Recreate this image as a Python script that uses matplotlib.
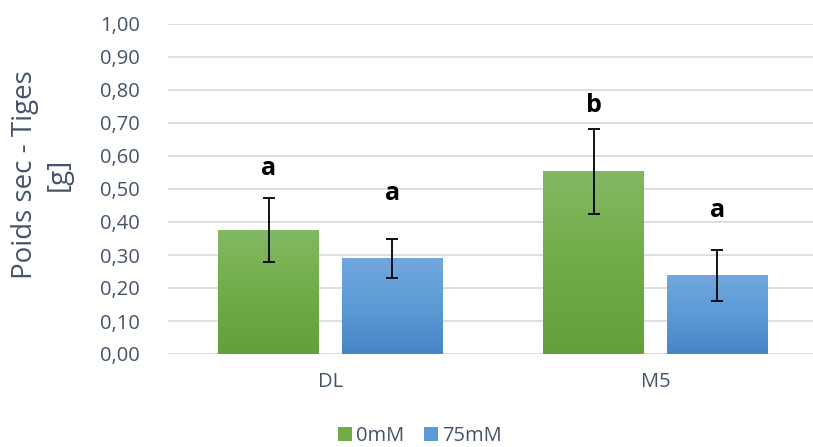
import matplotlib
matplotlib.use("Agg")
import matplotlib.pyplot as plt
from matplotlib.colors import LinearSegmentedColormap
import numpy as np

categories = ["DL", "M5"]
series_names = ["0mM", "75mM"]
values_0mM = [0.375, 0.553]
values_75mM = [0.290, 0.239]
err_0mM = [0.097, 0.130]
err_75mM = [0.059, 0.077]
letters_0mM = ["a", "b"]
letters_75mM = ["a", "a"]
letter_y_0mM = [0.541, 0.734]
letter_y_75mM = [0.468, 0.414]
yticks = [0.0, 0.1, 0.2, 0.3, 0.4, 0.5, 0.6, 0.7, 0.8, 0.9, 1.0]

text_color = "#44546A"
grid_color = "#D9DDE3"
green_stops = ["#64A03A", "#70AD47", "#83B864"]
blue_stops = ["#4686C6", "#5B9BD5", "#71A7DD"]

plt.rcParams["font.family"] = ["Open Sans", "DejaVu Sans"]

fig = plt.figure(figsize=(8.13, 4.47), dpi=100)
ax = fig.add_axes([168 / 813, 1 - 354 / 447, 1 - 168 / 813, (354 - 24) / 447])

x = np.arange(len(categories))
width = 0.31
offset = 0.19


def gradient_bars(xs, heights, stops, label):
    bars = ax.bar(xs, heights, width, color=stops[1], label=label, zorder=2)
    cmap = LinearSegmentedColormap.from_list("g", stops)
    grad = np.linspace(0, 1, 256).reshape(-1, 1)
    for b in bars:
        x0 = b.get_x()
        h = b.get_height()
        ax.imshow(grad, extent=[x0, x0 + b.get_width(), 0, h], origin="lower",
                  aspect="auto", cmap=cmap, zorder=2.5)
    return bars


gradient_bars(x - offset, values_0mM, green_stops, series_names[0])
gradient_bars(x + offset, values_75mM, blue_stops, series_names[1])

ax.errorbar(x - offset, values_0mM, yerr=err_0mM, fmt="none", ecolor="black",
            elinewidth=1.3, capsize=4.5, capthick=1.3, zorder=4)
ax.errorbar(x + offset, values_75mM, yerr=err_75mM, fmt="none", ecolor="black",
            elinewidth=1.3, capsize=4.5, capthick=1.3, zorder=4)

for i in range(len(categories)):
    ax.text(x[i] - offset, letter_y_0mM[i], letters_0mM[i], ha="center", va="baseline",
            fontsize=18, fontweight="bold", color="black")
    ax.text(x[i] + offset, letter_y_75mM[i], letters_75mM[i], ha="center", va="baseline",
            fontsize=18, fontweight="bold", color="black")

ax.set_xlim(-0.5, (813 - 168) / 325 - 0.5)
ax.set_ylim(0, 1.0)
ax.set_yticks(yticks)
ax.set_yticklabels([f"{t:.2f}".replace(".", ",") for t in yticks])
ax.set_xticks(x)
ax.set_xticklabels(categories)
ax.tick_params(axis="both", length=0, colors=text_color, labelsize=14.5)
ax.tick_params(axis="y", pad=20)
ax.tick_params(axis="x", pad=13)
ax.grid(axis="y", color=grid_color, linewidth=1.3, zorder=0)
ax.set_axisbelow(True)
for s in ax.spines.values():
    s.set_visible(False)

ax.set_ylabel("Poids sec - Tiges\n[g]", fontsize=20, color=text_color,
              linespacing=1.25)
ax.yaxis.set_label_coords(-0.148, 0.545)

fig.legend(loc="center", bbox_to_anchor=(420 / 813, 1 - 436 / 447), ncol=2,
           frameon=False, fontsize=14.5, handlelength=0.7, handleheight=0.7,
           handletextpad=0.2, columnspacing=1.0, labelcolor=text_color)

fig.savefig("out.png", dpi=100)
